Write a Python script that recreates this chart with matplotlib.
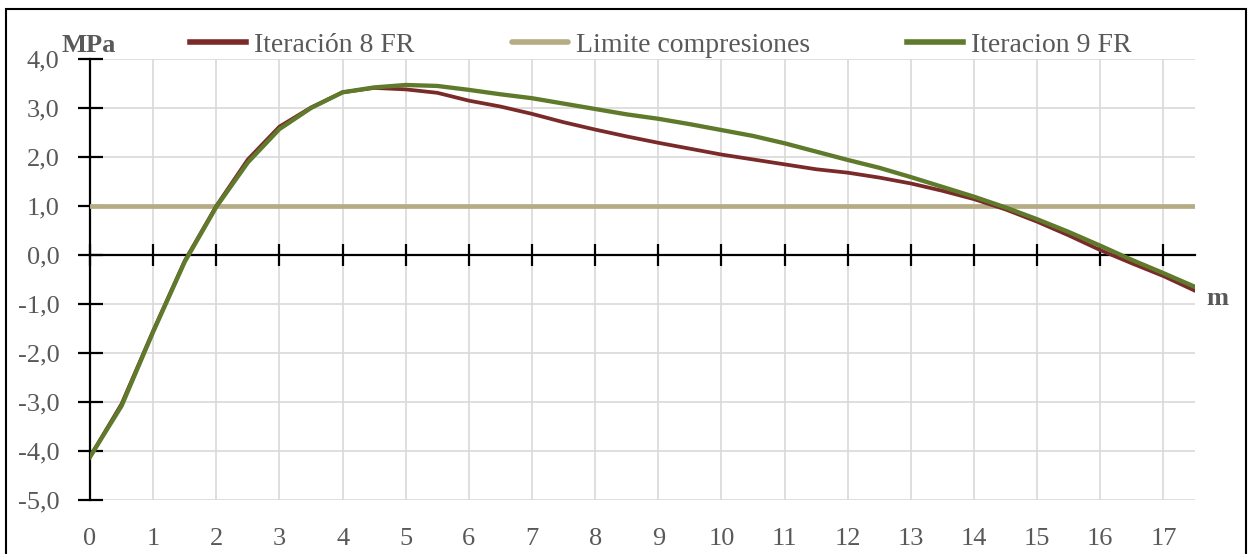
import matplotlib.pyplot as plt
from matplotlib.patches import Rectangle

plt.rcParams['font.family'] = ['Liberation Serif', 'DejaVu Serif']

x = [0, 0.5, 1, 1.5, 2, 2.5, 3, 3.5, 4, 4.5, 5, 5.5, 6, 6.5, 7, 7.5, 8, 8.5,
     9, 9.5, 10, 10.5, 11, 11.5, 12, 12.5, 13, 13.5, 14, 14.5, 15, 15.5, 16,
     16.5, 17, 17.5]
iter8 = [-4.12, -3.04, -1.55, -0.12, 1.0, 1.95, 2.62, 3.01, 3.32, 3.41, 3.38,
         3.31, 3.15, 3.03, 2.88, 2.71, 2.56, 2.42, 2.29, 2.17, 2.05, 1.95,
         1.85, 1.75, 1.68, 1.58, 1.46, 1.31, 1.14, 0.93, 0.68, 0.40, 0.10,
         -0.17, -0.43, -0.73]
iter9 = [-4.12, -3.08, -1.57, -0.14, 0.98, 1.89, 2.57, 3.0, 3.32, 3.42, 3.47,
         3.45, 3.37, 3.28, 3.20, 3.09, 2.98, 2.87, 2.78, 2.67, 2.55, 2.43,
         2.28, 2.11, 1.94, 1.78, 1.59, 1.39, 1.19, 0.97, 0.73, 0.47, 0.19,
         -0.10, -0.37, -0.65]
limite = 1.0
xticks = list(range(0, 18))
yticks = [4, 3, 2, 1, 0, -1, -2, -3, -4, -5]

gray = '#595959'
c8 = '#7b2a2a'
c9 = '#5f7a2b'
cl = '#b5ab85'
fs = 19

fig = plt.figure(figsize=(12.52, 5.54), dpi=100)
ax = fig.add_axes([90/1252, 54/554, 1105/1252, 441/554])

ax.plot(x, iter8, color=c8, lw=2.7, label='Iteración 8 FR', zorder=4)
ax.axhline(limite, color=cl, lw=3.4, label='Limite compresiones', zorder=3,
           solid_capstyle='round')
ax.plot(x, iter9, color=c9, lw=3.1, label='Iteracion 9 FR', zorder=5)

ax.set_xlim(0, 17.5)
ax.set_ylim(-5, 4)
ax.set_xticks(xticks)
ax.set_yticks(yticks)
ax.set_yticklabels([f'{v:.1f}'.replace('.', ',') for v in yticks],
                   color=gray, fontsize=fs)
ax.grid(True, color='#d9d9d9', lw=1.2)
ax.set_axisbelow(True)

for s in ['top', 'right']:
    ax.spines[s].set_visible(False)
ax.spines['left'].set_linewidth(1.6)
ax.spines['bottom'].set_position(('data', 0))
ax.spines['bottom'].set_linewidth(1.6)
ax.tick_params(axis='y', direction='inout', length=18, width=1.6, pad=13)
ax.tick_params(axis='x', direction='inout', length=16, width=1.6,
               labelbottom=False)

# x labels at the bottom of the plot, as in Excel "low" position
for t in xticks:
    ax.text(t, -5.8, str(t), ha='center', va='center', color=gray,
            fontsize=fs, clip_on=False)

ax.text(-0.45, 4.27, 'MPa', ha='left', va='center', color=gray,
        fontsize=fs, fontweight='bold', clip_on=False)
ax.text(17.85, -0.88, 'm', ha='center', va='center', color=gray,
        fontsize=fs, fontweight='bold', clip_on=False)

leg = fig.legend(loc='center', bbox_to_anchor=(0.528, 0.918), ncol=3,
                 frameon=False, fontsize=20, handlelength=2.0,
                 handletextpad=0.3, columnspacing=3.5, labelcolor=gray)
for h in leg.get_lines():
    h.set_linewidth(4)

fig.patches.append(Rectangle((6/1252, -0.01), 1240/1252, 1 - 9/554 + 0.01,
                             transform=fig.transFigure, fill=False,
                             edgecolor='black', lw=1.5))

fig.savefig('out.png', dpi=100)
